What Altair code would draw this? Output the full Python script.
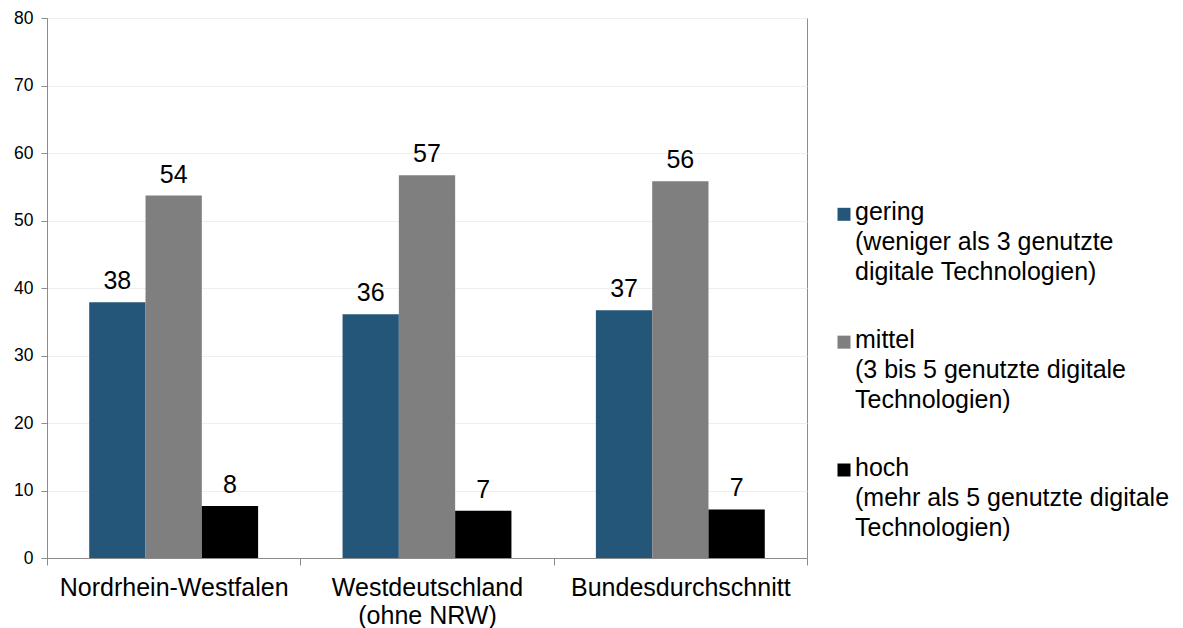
import altair as alt
import pandas as pd

categories = ["Nordrhein-Westfalen", "Westdeutschland (ohne NRW)", "Bundesdurchschnitt"]
series = ["gering", "mittel", "hoch"]
gering = [37.9, 36.1, 36.7]
mittel = [53.7, 56.7, 55.8]
hoch = [7.7, 7.0, 7.2]
legend_labels = [
    "gering\n(weniger als 3 genutzte\ndigitale Technologien)",
    "mittel\n(3 bis 5 genutzte digitale\nTechnologien)",
    "hoch\n(mehr als 5 genutzte digitale\nTechnologien)",
]
colors = ["#245679", "#7f7f7f", "#000000"]
y_ticks = [0, 10, 20, 30, 40, 50, 60, 70, 80]

FONT = "Liberation Sans"
AXIS_GRAY = "#8c8c8c"
BIG = 25

rows = []
for s, vals in zip(series, [gering, mittel, hoch]):
    for c, v in zip(categories, vals):
        rows.append({"cat": c, "series": s, "value": v, "label": str(round(v))})
df = pd.DataFrame(rows)

x = alt.X(
    "cat:N", sort=categories, title=None,
    scale=alt.Scale(paddingInner=0, paddingOuter=0),
    axis=alt.Axis(
        labelAngle=0, tickBand="extent", labelFontSize=BIG, labelColor="black",
        labelFont=FONT, labelPadding=10, tickSize=7, tickColor=AXIS_GRAY,
        domainColor=AXIS_GRAY, labelLineHeight=28, grid=False, labelLimit=400,
        labelExpr="isValid(datum.value) ? split(replace(datum.value, ' (', '|('), '|') : ''",
    ),
)
xo = alt.XOffset("series:N", sort=series,
                 scale=alt.Scale(paddingOuter=0.75, paddingInner=0))
y = alt.Y(
    "value:Q", title=None,
    scale=alt.Scale(domain=[0, 80], nice=False),
    axis=alt.Axis(
        values=y_ticks, tickSize=6, labelPadding=8, labelFontSize=17.5,
        labelFont=FONT, labelColor="black", gridColor="#eeeeee",
        tickColor=AXIS_GRAY, domainColor=AXIS_GRAY,
    ),
)
color = alt.Color("series:N", sort=series,
                  scale=alt.Scale(domain=series, range=colors), legend=None)

bars = alt.Chart(df).mark_bar().encode(x=x, xOffset=xo, y=y, color=color)
labels = alt.Chart(df).mark_text(
    baseline="alphabetic", dy=-13, fontSize=BIG, font=FONT, color="black"
).encode(x=x, xOffset=xo, y=y, text="label:N")

main = (bars + labels).properties(
    width=760, height=540, view=alt.ViewBackground(stroke=AXIS_GRAY)
)

leg_df = pd.DataFrame({"series": series, "text": legend_labels})
ly = alt.Y("series:N", sort=series, axis=None,
           scale=alt.Scale(type="point", range=[182.3, 438.0], padding=0))
sw = alt.Chart(leg_df).mark_square(size=169, yOffset=14, opacity=1).encode(
    x=alt.value(25), y=ly, color=color
)
tx = alt.Chart(leg_df).mark_text(
    align="left", baseline="top", lineBreak="\n", lineHeight=30,
    fontSize=BIG, font=FONT, color="black"
).encode(x=alt.value(36), y=ly, text="text:N")
legend = (sw + tx).properties(
    width=320, height=540, view=alt.ViewBackground(stroke="transparent")
)

chart = alt.hconcat(main, legend, spacing=10).properties(
    padding={"left": 5, "top": 0, "right": 5, "bottom": 0}
).configure_view(stroke="transparent")

chart.save("out.html", embed_options={"renderer": "svg", "actions": False})
